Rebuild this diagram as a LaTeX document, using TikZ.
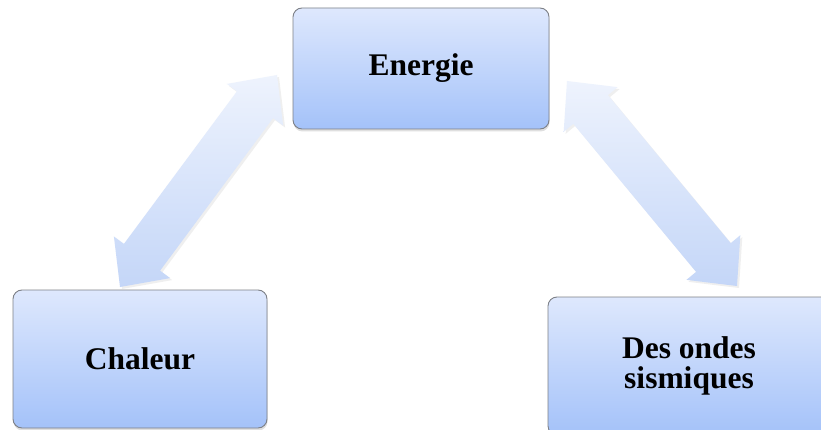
\documentclass[tikz,border=0pt]{standalone}
\usepackage{fontspec}
\setmainfont{Liberation Serif}
\usetikzlibrary{calc,shadows}
\definecolor{boxtop}{RGB}{222,232,253}
\definecolor{boxbot}{RGB}{164,194,249}
\definecolor{boxline}{RGB}{125,128,135}
\definecolor{arrtop}{RGB}{238,243,253}
\definecolor{arrbot}{RGB}{196,214,248}
\tikzset{
  box/.style={draw=boxline, line width=0.9pt, rounded corners=9pt,
    top color=boxtop, bottom color=boxbot, inner sep=0pt, align=center,
    font=\fontsize{31.5}{30.5}\selectfont\bfseries,
    drop shadow={shadow xshift=0.5pt, shadow yshift=-2.5pt, opacity=0.25}},
  bigarrow/.style={top color=arrtop, bottom color=arrbot, draw=none,
    drop shadow={shadow xshift=2pt, shadow yshift=-2pt, opacity=0.12}}
}
\newcommand\blockarrow[2]{%
  \path[bigarrow] (#1)
    -- ($(#1)!37pt!(#2)!35pt!90:(#2)$)
    -- ($(#1)!37pt!(#2)!22.5pt!90:(#2)$)
    -- ($(#2)!37pt!(#1)!22.5pt!-90:(#1)$)
    -- ($(#2)!37pt!(#1)!35pt!-90:(#1)$)
    -- (#2)
    -- ($(#2)!37pt!(#1)!35pt!90:(#1)$)
    -- ($(#2)!37pt!(#1)!22.5pt!90:(#1)$)
    -- ($(#1)!37pt!(#2)!22.5pt!-90:(#2)$)
    -- ($(#1)!37pt!(#2)!35pt!-90:(#2)$)
    -- cycle;}
\begin{document}
\begin{tikzpicture}[x=1pt,y=-1pt]
\useasboundingbox (0,0) rectangle (821,430);
\clip (0,0) rectangle (821,430);
\fill[white] (0,0) rectangle (821,430);
\node[box, minimum width=256pt, minimum height=121pt] (energie) at (421,68.5) {Energie};
\node[box, minimum width=254pt, minimum height=138pt] (chaleur) at (140,359) {Chaleur};
\node[box, minimum width=282pt, minimum height=138pt] (ondes) at (689,366) {Des ondes\\sismiques};
\coordinate (la) at (120,287);
\coordinate (lb) at (277,75);
\coordinate (ra) at (567,81);
\coordinate (rb) at (737,286);
\blockarrow{la}{lb}
\blockarrow{ra}{rb}
\end{tikzpicture}
\end{document}
